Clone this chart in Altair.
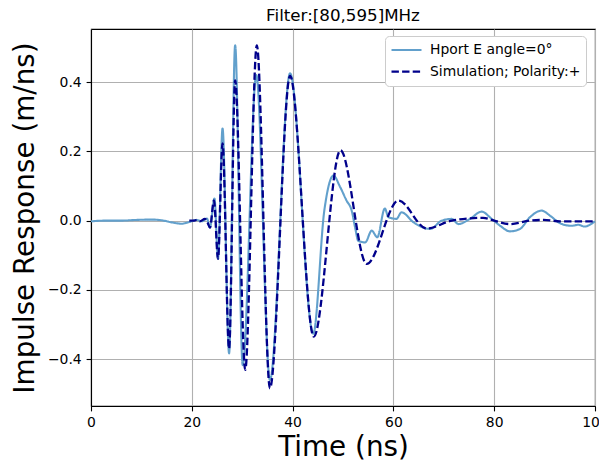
import altair as alt
import pandas as pd

# Measured response (light blue)
meas_t = [0, 3, 6, 9, 12, 14, 16, 18, 19.5, 21, 22, 23, 23.6, 24.5, 25.2, 26.1,
          27.4, 28.6, 30.1, 32.8, 35.5, 39.5, 44.1, 46.3, 48.1, 49.4, 50.7, 51.7,
          52.5, 53.0, 54.4, 55.7, 56.8, 58.3, 59.0, 60.6, 61.6, 64, 67.3, 69.6,
          71.6, 72.9, 75.2, 77.5, 79.5, 81.2, 83.1, 85.1, 87.1, 89.4, 91.1, 93.1,
          95.4, 96.7, 97.9, 100]
meas_v = [-0.002, 0.0, 0.0, 0.002, 0.003, 0.001, -0.005, -0.009, -0.004, 0.002,
          -0.002, 0.006, -0.02, 0.064, -0.11, 0.266, -0.383, 0.506, -0.417, 0.42,
          -0.46, 0.425, -0.326, 0.03, 0.13, 0.098, 0.058, 0.03, -0.027, -0.058,
          -0.063, -0.029, -0.048, 0.035, 0.01, 0.005, 0.024, -0.005, -0.024, 0.0,
          0.005, -0.01, 0.005, 0.026, 0.005, -0.015, -0.031, -0.024, 0.01, 0.029,
          0.014, -0.008, -0.015, -0.012, -0.017, -0.002]

# Simulation (dark blue dashed)
sim_t = [19.5, 20.5, 21, 21.6, 22.6, 23.1, 23.6, 24.4, 25.2, 26.1, 27.4, 28.6,
         30.6, 32.9, 35.5, 39.5, 44.2, 49.5, 54.7, 61.0, 66.6, 71.6, 77.8, 80,
         83.1, 87.1, 89.8, 93.1, 100]
sim_v = [0.0, 0.0, 0.002, -0.002, 0.005, -0.005, -0.02, 0.058, -0.11, 0.223,
         -0.37, 0.405, -0.431, 0.506, -0.484, 0.418, -0.335, 0.203, -0.125,
         0.058, -0.023, 0.0, 0.008, 0.0, -0.01, 0.0, 0.002, -0.002, -0.002]

series_names = ["Hport E angle=0\u00b0", "Simulation; Polarity:+"]
x_ticks = [0, 20, 40, 60, 80, 100]
y_ticks = [-0.4, -0.2, 0.0, 0.2, 0.4]

df = pd.concat([
    pd.DataFrame({"t": meas_t, "v": meas_v, "series": series_names[0], "o": range(len(meas_t))}),
    pd.DataFrame({"t": sim_t, "v": sim_v, "series": series_names[1], "o": range(len(sim_t))}),
])

FONT = "DejaVu Sans"

x_enc = alt.X("t:Q", scale=alt.Scale(domain=[0, 100], nice=False, zero=False),
              axis=alt.Axis(values=x_ticks, format="d", title="Time (ns)", labelFlush=False,
                            labelOverlap=False, titleFontSize=27.8, titlePadding=4))
y_enc = alt.Y("v:Q", scale=alt.Scale(domain=[-0.535, 0.553], nice=False, zero=False),
              axis=alt.Axis(values=y_ticks, format=".1f", title="Impulse Response (m/ns)",
                            labelOverlap=False, titleFontSize=27.8, titlePadding=8))
color_enc = alt.Color("series:N", scale=alt.Scale(domain=series_names, range=["#62a0cc", "#00008b"]),
                      legend=alt.Legend(title=None, orient="none", legendX=294, legendY=7))
dash_enc = alt.StrokeDash("series:N", scale=alt.Scale(domain=series_names, range=[[1, 0], [7.4, 3.2]]),
                          legend=alt.Legend(title=None, orient="none", legendX=294, legendY=7))

meas = alt.Chart(df).transform_filter(alt.datum.series == series_names[0]).mark_line(
    strokeWidth=2.1, interpolate="monotone").encode(
    x=x_enc, y=y_enc, color=color_enc, strokeDash=dash_enc, order="o:Q")
sim = alt.Chart(df).transform_filter(alt.datum.series == series_names[1]).mark_line(
    strokeWidth=2.3, interpolate="monotone").encode(
    x=x_enc, y=y_enc, color=color_enc, strokeDash=dash_enc, order="o:Q")

chart = alt.layer(meas, sim).properties(
    width=504, height=377,
    title=alt.TitleParams("Filter:[80,595]MHz", fontSize=16.7, font=FONT, fontWeight="normal",
                          offset=4, anchor="middle", color="black", frame="group"),
    autosize=alt.AutoSizeParams(type="none"),
    padding={"left": 83, "top": 21, "right": 4, "bottom": 54},
).configure_view(stroke="black", strokeWidth=1.1).configure_axis(
    labelFont=FONT, titleFont=FONT, labelFontSize=13.9, labelColor="black", titleColor="black",
    titleFontWeight="normal", tickColor="black", tickSize=4.9, tickWidth=1.1, labelPadding=4.9,
    domainColor="black", domainWidth=1.1, gridColor="#b0b0b0", gridWidth=1.1,
).configure_legend(
    labelFont=FONT, labelFontSize=13.9, labelColor="black", fillColor="white",
    strokeColor="#cccccc", cornerRadius=4, padding=5, symbolType="M-1.5,0H1.5", symbolSize=400,
    symbolOffset=5, symbolStrokeWidth=2.2, labelOffset=12, rowPadding=3.7, clipHeight=18,
)

chart.save("out.html", embed_options={"renderer": "svg", "actions": False})
